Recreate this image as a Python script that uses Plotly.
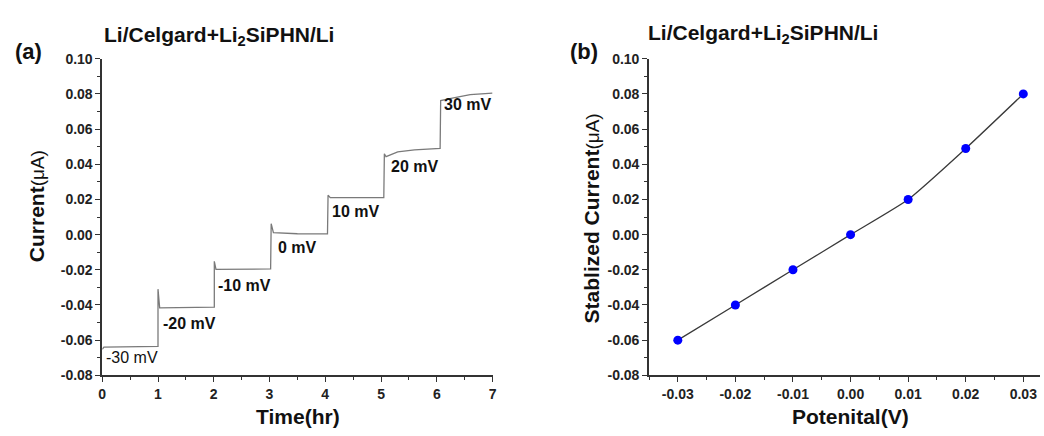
import plotly.graph_objects as go

W, H = 1044, 436

# ---- data: panel (a) chronoamperometry steps ----
time_hr = [0.0, 0.03, 1.00,
           1.00, 1.03, 2.01,
           2.01, 2.04, 3.02,
           3.03, 3.07, 3.50, 4.04,
           4.05, 4.09, 5.05,
           5.06, 5.09, 5.30, 5.60, 6.06,
           6.07, 6.30, 6.60, 7.00]
current_uA = [-0.0652, -0.0640, -0.0636,
              -0.0310, -0.0416, -0.0412,
              -0.0152, -0.0198, -0.0195,
              0.0062, 0.0011, 0.0005, 0.0004,
              0.0224, 0.0210, 0.0210,
              0.0460, 0.0443, 0.0470, 0.0482, 0.0491,
              0.0762, 0.0778, 0.0796, 0.0805]

step_labels = ["-30 mV", "-20 mV", "-10 mV", "0 mV", "10 mV", "20 mV", "30 mV"]
label_t = [0.53, 1.56, 2.56, 3.50, 4.54, 5.60, 6.56]
label_y = [-0.0699, -0.0503, -0.0288, -0.0072, 0.0134, 0.0390, 0.0741]
label_bold = [False, True, True, True, True, True, True]

# ---- data: panel (b) stabilized current vs potential ----
potential_V = [-0.03, -0.02, -0.01, 0.00, 0.01, 0.02, 0.03]
stab_current = [-0.060, -0.040, -0.020, 0.000, 0.020, 0.049, 0.080]

y_ticks = [-0.08, -0.06, -0.04, -0.02, 0.00, 0.02, 0.04, 0.06, 0.08, 0.10]
y_ticktext = ["%.2f" % v for v in y_ticks]
x1_ticks = [0, 1, 2, 3, 4, 5, 6, 7]
x2_ticks = [-0.03, -0.02, -0.01, 0.00, 0.01, 0.02, 0.03]
x2_ticktext = ["%.2f" % v for v in x2_ticks]

FONT = "Liberation Sans, Arial, sans-serif"
AX = "#333333"

def px_x(p):
    return p / W

def px_y(p):
    return 1 - p / H

fig = go.Figure()

fig.add_trace(go.Scatter(x=time_hr, y=current_uA, mode="lines",
                         line=dict(color="#7a7a7a", width=1.3),
                         xaxis="x", yaxis="y", showlegend=False))

fig.add_trace(go.Scatter(x=potential_V, y=stab_current, mode="lines+markers",
                         line=dict(color="#3a3a3a", width=1.3, shape="spline", smoothing=0.5),
                         marker=dict(color="#0000ff", size=9),
                         xaxis="x2", yaxis="y2", showlegend=False))

common_axis = dict(showline=True, linecolor=AX, linewidth=1.6, ticks="outside",
                   tickcolor=AX, tickwidth=1.4, ticklen=5, showgrid=False,
                   zeroline=False, mirror=False,
                   tickfont=dict(family=FONT, size=14, color="#222222", weight="bold"))

y_dom = [px_y(381.3), px_y(52.7)]

fig.update_layout(
    width=W, height=H,
    margin=dict(l=0, r=0, t=0, b=0),
    paper_bgcolor="white", plot_bgcolor="white",
    font=dict(family=FONT),
    xaxis=dict(domain=[px_x(99), px_x(492.3)], range=[0, 7], anchor="y",
               tickvals=x1_ticks,
               minor=dict(ticks="outside", dtick=0.5, ticklen=3, tickcolor=AX, tickwidth=1.2),
               **common_axis),
    yaxis=dict(domain=y_dom, range=[-0.08, 0.10], anchor="x",
               tickvals=y_ticks, ticktext=y_ticktext,
               minor=dict(ticks="outside", dtick=0.01, tick0=0, ticklen=3, tickcolor=AX, tickwidth=1.2),
               **common_axis),
    xaxis2=dict(domain=[px_x(650), 1.0], range=[-0.035, 0.0329], anchor="y2",
                tickvals=x2_ticks, ticktext=x2_ticktext,
                minor=dict(ticks="outside", dtick=0.005, tick0=0, ticklen=3, tickcolor=AX, tickwidth=1.2),
                **common_axis),
    yaxis2=dict(domain=y_dom, range=[-0.08, 0.10], anchor="x2",
                tickvals=y_ticks, ticktext=y_ticktext,
                minor=dict(ticks="outside", dtick=0.01, tick0=0, ticklen=3, tickcolor=AX, tickwidth=1.2),
                **common_axis),
)

ann = []
for txt, t, yv, b in zip(step_labels, label_t, label_y, label_bold):
    ann.append(dict(x=t, y=yv, xref="x", yref="y", text=("<b>%s</b>" % txt) if b else txt,
                    showarrow=False, xanchor="center", yanchor="middle",
                    font=dict(family=FONT, size=16, color="#111111")))

title_txt = "<b>Li/Celgard+Li<sub>2</sub>SiPHN/Li</b>"
ann.append(dict(x=px_x(99), y=px_y(29), xref="paper", yref="paper", text=title_txt,
                showarrow=False, xanchor="left", yanchor="middle",
                font=dict(family=FONT, size=21, color="#111111")))
ann.append(dict(x=px_x(647), y=px_y(27), xref="paper", yref="paper", text=title_txt,
                showarrow=False, xanchor="left", yanchor="middle",
                font=dict(family=FONT, size=21, color="#111111")))
ann.append(dict(x=px_x(9), y=px_y(45), xref="paper", yref="paper", text="<b>(a)</b>",
                showarrow=False, xanchor="left", yanchor="middle",
                font=dict(family=FONT, size=22, color="#111111")))
ann.append(dict(x=px_x(568), y=px_y(45), xref="paper", yref="paper", text="<b>(b)</b>",
                showarrow=False, xanchor="left", yanchor="middle",
                font=dict(family=FONT, size=22, color="#111111")))
# axis titles
ann.append(dict(x=px_x(296), y=px_y(424), xref="paper", yref="paper", text="<b>Time(hr)</b>",
                showarrow=False, xanchor="center", yanchor="middle",
                font=dict(family=FONT, size=21, color="#111111")))
ann.append(dict(x=px_x(853), y=px_y(424), xref="paper", yref="paper", text="<b>Potenital(V)</b>",
                showarrow=False, xanchor="center", yanchor="middle",
                font=dict(family=FONT, size=21, color="#111111")))
mu = "<span style='font-size:19px'>(μA)</span>"
ann.append(dict(x=px_x(33), y=px_y(206), xref="paper", yref="paper",
                text="<b>Current</b>" + mu, textangle=-90,
                showarrow=False, xanchor="center", yanchor="middle",
                font=dict(family=FONT, size=21, color="#111111")))
ann.append(dict(x=px_x(592), y=px_y(218), xref="paper", yref="paper",
                text="<b>Stablized Current</b>" + mu, textangle=-90,
                showarrow=False, xanchor="center", yanchor="middle",
                font=dict(family=FONT, size=21, color="#111111")))

fig.update_layout(annotations=ann)

fig.write_html("out.html")
